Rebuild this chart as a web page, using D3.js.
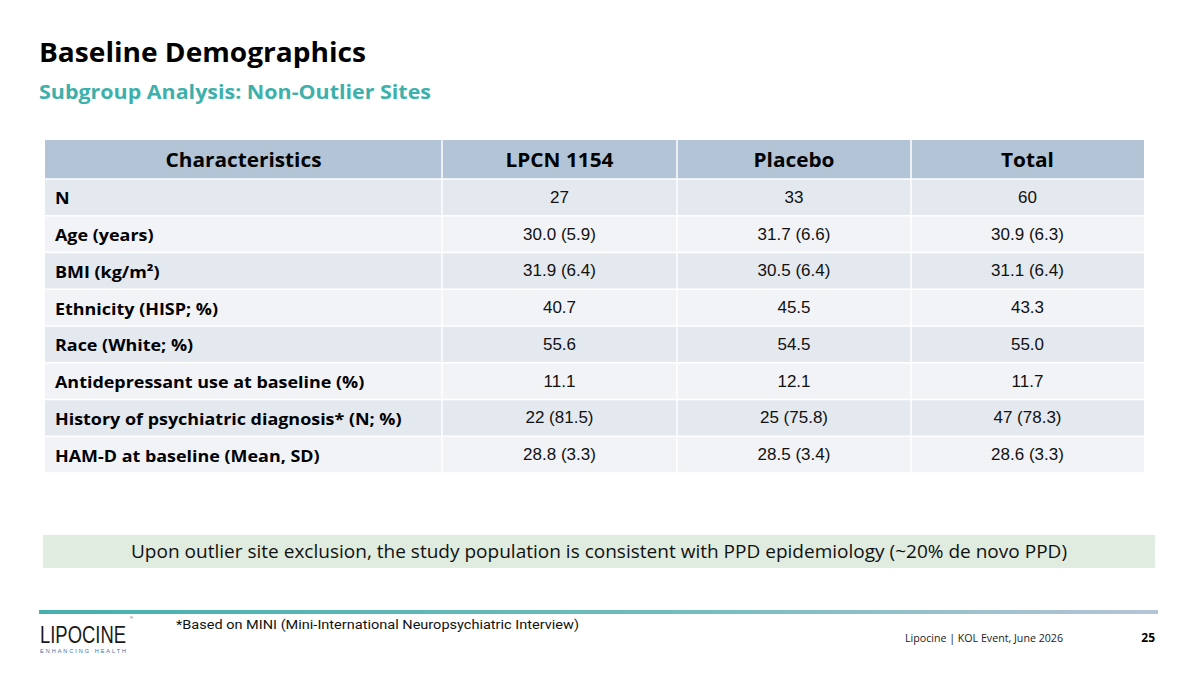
<!DOCTYPE html>
<html><head><meta charset="utf-8">
<script src="https://cdn.jsdelivr.net/npm/d3@7/dist/d3.min.js"></script>
<style>
html,body{margin:0;padding:0;background:#fff;}
svg{display:block;}
</style></head>
<body>
<svg id="c" width="1200" height="675"></svg>
<script>
const title = "Baseline Demographics";
const subtitle = "Subgroup Analysis: Non-Outlier Sites";
const columns = ["Characteristics", "LPCN 1154", "Placebo", "Total"];
const characteristics = ["N", "Age (years)", "BMI (kg/m²)", "Ethnicity (HISP; %)", "Race (White; %)",
  "Antidepressant use at baseline (%)", "History of psychiatric diagnosis* (N; %)", "HAM-D at baseline (Mean, SD)"];
const lpcn = ["27", "30.0 (5.9)", "31.9 (6.4)", "40.7", "55.6", "11.1", "22 (81.5)", "28.8 (3.3)"];
const placebo = ["33", "31.7 (6.6)", "30.5 (6.4)", "45.5", "54.5", "12.1", "25 (75.8)", "28.5 (3.4)"];
const total = ["60", "30.9 (6.3)", "31.1 (6.4)", "43.3", "55.0", "11.7", "47 (78.3)", "28.6 (3.3)"];
const callout = "Upon outlier site exclusion, the study population is consistent with PPD epidemiology (~20% de novo PPD)";
const footnote = "*Based on MINI (Mini-International Neuropsychiatric Interview)";
const footerText = "Lipocine | KOL Event, June 2026";
const pageNum = "25";

const svg = d3.select("#c");
const SEG = "'Open Sans','Noto Sans',sans-serif";
const NUM = "'Liberation Sans',Arial,sans-serif";

// Titles
svg.append("text").attr("x", 39).attr("y", 62).attr("font-family", SEG).attr("font-weight", 700)
  .attr("font-size", 26).attr("fill", "#000").attr("textLength", 327).attr("lengthAdjust","spacingAndGlyphs").text(title);
svg.append("text").attr("x", 39).attr("y", 99).attr("font-family", SEG).attr("font-weight", 700)
  .attr("font-size", 19).attr("fill", "#3db0ab").attr("textLength", 392).attr("lengthAdjust","spacingAndGlyphs").text(subtitle);

// Table
const colEdges = [45, 442, 677, 911, 1144];
const headerTop = 140, headerBottom = 179, tableBottom = 473;
const rows = characteristics.map((c, i) => ({label: c, vals: [lpcn[i], placebo[i], total[i]]}));
const y = d3.scaleBand().domain(d3.range(rows.length)).range([headerBottom, tableBottom]);

const g = svg.append("g");
// header
columns.forEach((col, j) => {
  g.append("rect").attr("x", colEdges[j]).attr("y", headerTop).attr("width", colEdges[j+1]-colEdges[j])
    .attr("height", headerBottom-headerTop).attr("fill", "#b3c4d6");
  const t = g.append("text").attr("x", (colEdges[j]+colEdges[j+1])/2).attr("y", (headerTop+headerBottom)/2 + 7.5)
    .attr("text-anchor","middle").attr("font-family", SEG).attr("font-weight",700).attr("font-size",20)
    .attr("fill","#000").text(col);
  const w = t.node().getComputedTextLength();
  t.attr("textLength", w * 1.04).attr("lengthAdjust","spacingAndGlyphs");
});
// body
const rowG = g.selectAll("g.row").data(rows).join("g").attr("class","row");
rowG.each(function(d, i) {
  const r = d3.select(this);
  const fill = i % 2 === 0 ? "#e4e8ef" : "#f1f3f7";
  for (let j = 0; j < 4; j++) {
    r.append("rect").attr("x", colEdges[j]).attr("y", y(i)).attr("width", colEdges[j+1]-colEdges[j])
      .attr("height", y.bandwidth()).attr("fill", fill);
  }
  const t = r.append("text").attr("x", 55).attr("y", y(i) + y.bandwidth()/2 + 7)
    .attr("font-family", SEG).attr("font-weight",700).attr("font-size",16).attr("fill","#000").text(d.label);
  const w = t.node().getComputedTextLength();
  t.attr("textLength", w * 1.12).attr("lengthAdjust","spacingAndGlyphs");
  d.vals.forEach((v, k) => {
    r.append("text").attr("x", (colEdges[k+1]+colEdges[k+2])/2).attr("y", y(i) + y.bandwidth()/2 + 5.5)
      .attr("text-anchor","middle").attr("font-family", NUM).attr("font-size",17).attr("fill","#111").text(v);
  });
});
// grid lines (white)
colEdges.slice(1, 4).forEach(x => {
  g.append("line").attr("x1", x).attr("x2", x).attr("y1", headerTop).attr("y2", tableBottom)
    .attr("stroke","#fff").attr("stroke-width",1.5);
});
d3.range(rows.length + 1).forEach(i => {
  const yy = i === 0 ? headerBottom : y(i-1) + y.bandwidth();
  g.append("line").attr("x1", colEdges[0]).attr("x2", colEdges[4]).attr("y1", yy).attr("y2", yy)
    .attr("stroke","#fff").attr("stroke-width",1.5);
});

// callout box
svg.append("rect").attr("x", 43).attr("y", 535).attr("width", 1112).attr("height", 33).attr("fill", "#e0ecdf");
svg.append("text").attr("x", 599).attr("y", 558).attr("text-anchor","middle").attr("font-family", SEG)
  .attr("font-size", 17.5).attr("fill","#111").attr("textLength", 936).attr("lengthAdjust","spacingAndGlyphs").text(callout);

// footer line gradient
const defs = svg.append("defs");
const grad = defs.append("linearGradient").attr("id","fl").attr("x1","0%").attr("x2","100%");
grad.append("stop").attr("offset","0%").attr("stop-color","#45b0ad");
grad.append("stop").attr("offset","55%").attr("stop-color","#6fbcbc");
grad.append("stop").attr("offset","100%").attr("stop-color","#b7c4d8");
svg.append("rect").attr("x", 39).attr("y", 610).attr("width", 1119).attr("height", 4).attr("fill","url(#fl)");

// logo
svg.append("text").attr("x", 40).attr("y", 643).attr("font-family","'Liberation Sans',Arial,sans-serif")
  .attr("font-size", 24).attr("font-weight", 400).attr("fill","#1a1a1a")
  .attr("textLength", 86).attr("lengthAdjust","spacingAndGlyphs").text("LIPOCINE");
svg.append("text").attr("x", 130).attr("y", 619).attr("font-family", NUM).attr("font-size", 4)
  .attr("fill","#333").text("®");
svg.append("text").attr("x", 40).attr("y", 653).attr("font-family", NUM).attr("font-size", 5.5)
  .attr("fill","#3d6fa8").attr("textLength", 86).attr("lengthAdjust","spacing").text("ENHANCING HEALTH");

// footnote
svg.append("text").attr("x", 176).attr("y", 629).attr("font-family","Roboto,'Liberation Sans',sans-serif")
  .attr("font-size", 12.5).attr("fill","#111").attr("textLength", 403).attr("lengthAdjust","spacingAndGlyphs").text(footnote);

// footer right
svg.append("text").attr("x", 905).attr("y", 642).attr("font-family", SEG).attr("font-size", 11)
  .attr("fill","#222").attr("textLength", 158).attr("lengthAdjust","spacingAndGlyphs").text(footerText);
svg.append("text").attr("x", 1155).attr("y", 642).attr("text-anchor","end").attr("font-family", SEG)
  .attr("font-weight",700).attr("font-size", 12).attr("fill","#000").text(pageNum);
</script>
</body></html>
